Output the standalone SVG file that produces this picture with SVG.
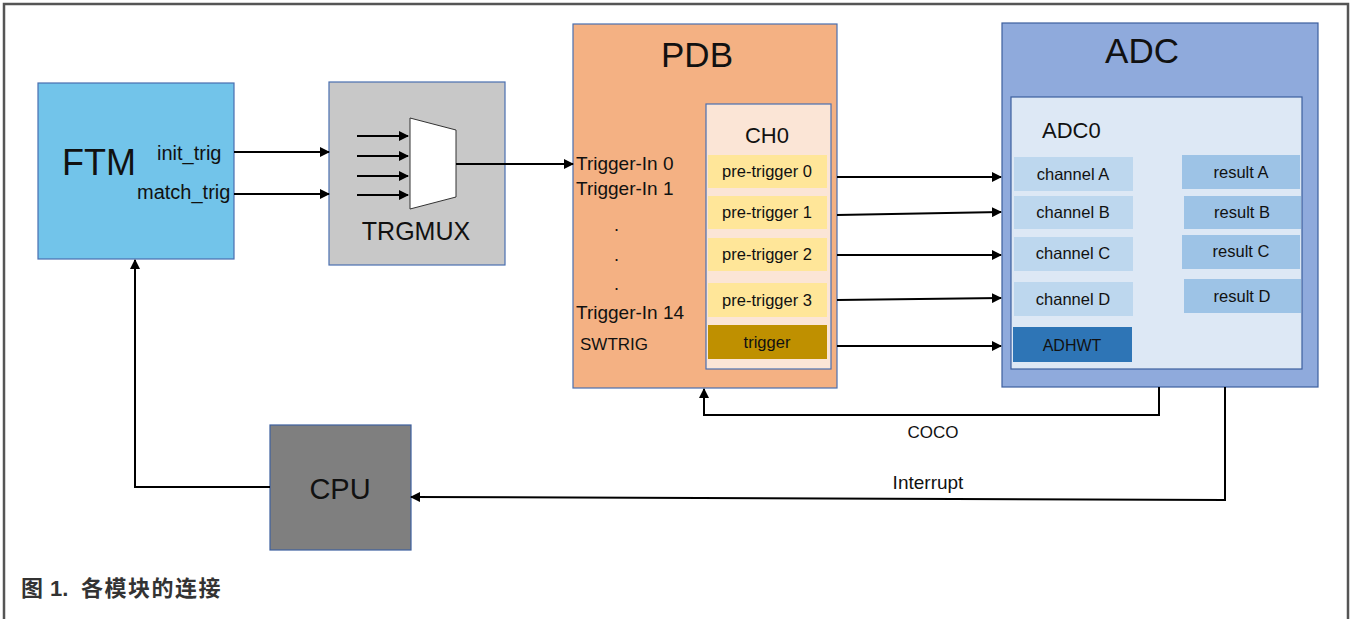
<svg xmlns="http://www.w3.org/2000/svg" width="1354" height="619" viewBox="0 0 1354 619">
<style>
text{font-family:"Liberation Sans",Arial,sans-serif;fill:#111}
.c{text-anchor:middle}
.node{stroke:#4a6fb0;stroke-width:1.2}
.ln{fill:none;stroke:#000;stroke-width:2}
.sm{font-size:16.5px}
</style>
<defs>
<marker id="ah" viewBox="0 0 10 10" refX="9" refY="5" markerWidth="5" markerHeight="5" orient="auto" markerUnits="strokeWidth">
<path d="M0,0 L10,5 L0,10 z" fill="#000"/>
</marker>
</defs>
<rect x="0" y="0" width="1354" height="619" fill="#fff"/>
<path d="M4,625 V4 H1348 V625" fill="none" stroke="#555" stroke-width="2.5"/>

<g id="FTM">
<rect class="node" x="38" y="83" width="196" height="176" fill="#72c4ea"/>
<text x="62" y="175" font-size="36">FTM</text>
<text x="157" y="160" font-size="20">init_trig</text>
<text x="137" y="199" font-size="20">match_trig</text>
</g>

<g id="TRGMUX">
<rect class="node" x="329" y="82" width="176" height="183" fill="#c8c8c8"/>
<path d="M410,118 L456,130 L456,197 L410,209 z" fill="#fff" stroke="#333" stroke-width="1"/>
<g class="ln">
<path d="M357,136 H408" marker-end="url(#ah)"/>
<path d="M357,156 H408" marker-end="url(#ah)"/>
<path d="M357,176 H408" marker-end="url(#ah)"/>
<path d="M357,195 H408" marker-end="url(#ah)"/>
</g>
<text x="416" y="240" font-size="25" class="c">TRGMUX</text>
</g>

<g id="PDB">
<rect class="node" x="573" y="24" width="264" height="364" fill="#f4b183"/>
<text x="697" y="67" font-size="35" class="c">PDB</text>
<text x="576" y="170" font-size="19">Trigger-In 0</text>
<text x="576" y="195" font-size="19">Trigger-In 1</text>
<text x="614" y="231" font-size="18">.</text>
<text x="614" y="261" font-size="18">.</text>
<text x="614" y="290" font-size="18">.</text>
<text x="576" y="319" font-size="19">Trigger-In 14</text>
<text x="580" y="350" font-size="17">SWTRIG</text>
</g>

<g id="CH0">
<rect class="node" x="706" y="104" width="125" height="265" fill="#fbe5d6"/>
<text x="767" y="143" font-size="22" class="c">CH0</text>
<rect x="708" y="155" width="119" height="33" fill="#ffe699"/>
<rect x="708" y="196" width="119" height="33" fill="#ffe699"/>
<rect x="708" y="238" width="119" height="33" fill="#ffe699"/>
<rect x="708" y="283" width="119" height="34" fill="#ffe699"/>
<rect x="708" y="325" width="119" height="34" fill="#bf9000"/>
<text x="767" y="177" class="c sm">pre-trigger 0</text>
<text x="767" y="218" class="c sm">pre-trigger 1</text>
<text x="767" y="260" class="c sm">pre-trigger 2</text>
<text x="767" y="306" class="c sm">pre-trigger 3</text>
<text x="767" y="348" class="c sm">trigger</text>
</g>

<g id="ADC">
<rect x="1002" y="23" width="316" height="364" fill="#8faadc" stroke="#3c5f9e" stroke-width="1.2"/>
<text x="1142" y="63" font-size="35" class="c">ADC</text>
</g>

<g id="ADC0">
<rect x="1011" y="97" width="291" height="272" fill="#dde8f5" stroke="#3c5f9e" stroke-width="1.2"/>
<text x="1042" y="138" font-size="22">ADC0</text>
<rect x="1014" y="157" width="119" height="34" fill="#bdd7ee"/>
<rect x="1014" y="196" width="119" height="33" fill="#bdd7ee"/>
<rect x="1014" y="237" width="119" height="34" fill="#bdd7ee"/>
<rect x="1014" y="282" width="119" height="34" fill="#bdd7ee"/>
<rect x="1013" y="327" width="119" height="35" fill="#2e75b6"/>
<text x="1073" y="180" class="c sm">channel A</text>
<text x="1073" y="218" class="c sm">channel B</text>
<text x="1073" y="259" class="c sm">channel C</text>
<text x="1073" y="305" class="c sm">channel D</text>
<text x="1072" y="351" font-size="16" class="c">ADHWT</text>
<rect x="1182" y="155" width="118" height="34" fill="#9dc3e6"/>
<rect x="1184" y="196" width="117" height="33" fill="#9dc3e6"/>
<rect x="1182" y="235" width="118" height="34" fill="#9dc3e6"/>
<rect x="1184" y="279" width="117" height="34" fill="#9dc3e6"/>
<text x="1241" y="178" class="c sm">result A</text>
<text x="1242" y="218" class="c sm">result B</text>
<text x="1241" y="257" class="c sm">result C</text>
<text x="1242" y="302" class="c sm">result D</text>
</g>

<g id="CPU">
<rect x="270" y="425" width="141" height="125" fill="#7f7f7f" stroke="#3c5f9e" stroke-width="1.2"/>
<text x="340" y="499" font-size="29" class="c">CPU</text>
</g>

<g id="connectors" class="ln">
<path d="M234,152 H329" marker-end="url(#ah)"/>
<path d="M234,194 H329" marker-end="url(#ah)"/>
<path d="M456,164 H573" marker-end="url(#ah)"/>
<path d="M837,177 H1001" marker-end="url(#ah)"/>
<path d="M837,215 L1001,212" marker-end="url(#ah)"/>
<path d="M837,255 H1001" marker-end="url(#ah)"/>
<path d="M837,300 L1001,298" marker-end="url(#ah)"/>
<path d="M837,346 H1001" marker-end="url(#ah)"/>
<path d="M1159,387 V415 H704 V389" marker-end="url(#ah)"/>
<path d="M1225,387 V500 L411,497" marker-end="url(#ah)"/>
<path d="M270,487 H135 V260" marker-end="url(#ah)"/>
</g>
<g id="labels">
<text x="933" y="438" font-size="17" class="c">COCO</text>
<text x="928" y="489" font-size="19" class="c">Interrupt</text>
</g>
<text y="596" font-size="22" font-weight="bold" style="font-family:'Liberation Sans','Noto Sans CJK SC',sans-serif;fill:#333"><tspan x="21">图</tspan><tspan x="50">1.</tspan><tspan x="81" letter-spacing="1.5">各模块的连接</tspan></text>
</svg>
